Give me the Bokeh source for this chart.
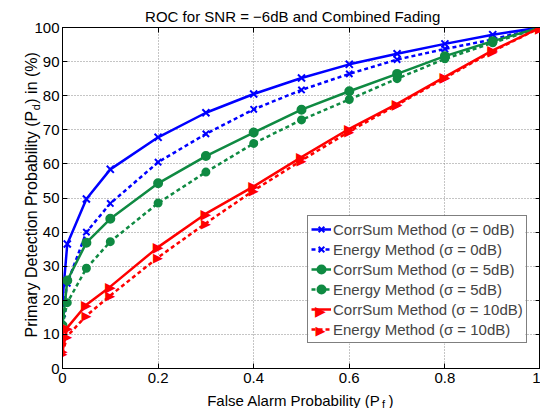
import math
from bokeh.plotting import figure
from bokeh.models import (LegendItem, Legend, LinearAxis, FixedTicker, Range1d)
from bokeh.embed import file_html
from bokeh.resources import INLINE
from bokeh.core.properties import value

# ---- data ----
pf = [0, 0.01, 0.05, 0.1, 0.2, 0.3, 0.4, 0.5, 0.6, 0.7, 0.8, 0.9, 1.0]
corrsum_0db = [20, 36.5, 49.7, 58.4, 67.8, 75.0, 80.5, 85.2, 89.2, 92.3, 95.2, 97.9, 100]
energy_0db = [16, 25, 40.0, 48.4, 60.5, 68.8, 76.0, 81.7, 86.4, 90.6, 93.7, 96.5, 100]
corrsum_5db = [12.6, 25.8, 36.9, 43.9, 54.3, 62.3, 69.2, 75.9, 81.3, 86.4, 91.6, 96.0, 100]
energy_5db = [12.6, 19.3, 29.4, 37.2, 48.5, 57.6, 66.0, 72.9, 78.9, 85.0, 90.8, 95.5, 100]
corrsum_10db = [5, 12.0, 18.7, 24.0, 35.6, 45.4, 53.4, 62.0, 70.3, 77.6, 85.5, 93.3, 100]
energy_10db = [4.5, 9.5, 15.5, 21.4, 32.6, 42.6, 52.2, 61.0, 69.5, 77.3, 85.2, 93.0, 100]

x_ticks = [0, 0.2, 0.4, 0.6, 0.8, 1.0]
x_tick_labels = ["0", "0.2", "0.4", "0.6", "0.8", "1"]
y_ticks = [0, 10, 20, 30, 40, 50, 60, 70, 80, 90, 100]
y_tick_labels = ["0", "10", "20", "30", "40", "50", "60", "70", "80", "90", "100"]

series_labels = [
    "CorrSum Method (\u03c3 = 0dB)",
    "Energy Method (\u03c3 = 0dB)",
    "CorrSum Method (\u03c3 = 5dB)",
    "Energy Method (\u03c3 = 5dB)",
    "CorrSum Method (\u03c3 = 10dB)",
    "Energy Method (\u03c3 = 10dB)",
]
title_text = "ROC for SNR = \u22126dB and Combined Fading"

FONT = "Liberation Sans"
BLUE = "#0000ff"
GREEN = "#0f8a42"
RED = "#ff0000"
TRI = "\u25b6"   # right-pointing triangle marker

FRAME_W, FRAME_H = 477, 341   # approximate frame size in pixels

p = figure(width=540, height=408, x_range=Range1d(0, 1), y_range=Range1d(0, 100),
           output_backend="svg", toolbar_location=None,
           min_border_left=62, min_border_right=0, min_border_top=27,
           min_border_bottom=40)
p.background_fill_color = "white"
p.border_fill_color = "white"
p.outline_line_color = "black"
p.outline_line_width = 1

# axes
for ax, ticks, labels in ((p.xaxis[0], x_ticks, x_tick_labels), (p.yaxis[0], y_ticks, y_tick_labels)):
    ax.ticker = FixedTicker(ticks=ticks)
    ax.major_label_overrides = {t: l for t, l in zip(ticks, labels)}
    ax.major_label_text_font = FONT
    ax.major_label_text_font_size = "15px"
    ax.major_label_text_color = "black"
    ax.major_tick_in = 5
    ax.major_tick_out = 0
    ax.minor_tick_line_color = None
    ax.axis_line_color = "black"
    ax.major_tick_line_color = "black"
p.xaxis.major_label_standoff = 4
p.yaxis.major_label_standoff = 3

top_ax = LinearAxis(ticker=FixedTicker(ticks=x_ticks),
                    major_label_overrides={t: "" for t in x_ticks},
                    major_tick_in=5, major_tick_out=0, minor_tick_line_color=None,
                    major_label_standoff=0, axis_line_color="black")
right_ax = LinearAxis(ticker=FixedTicker(ticks=y_ticks),
                      major_label_overrides={t: "" for t in y_ticks},
                      major_tick_in=5, major_tick_out=0, minor_tick_line_color=None,
                      major_label_standoff=0, axis_line_color="black")
p.add_layout(top_ax, "above")
p.add_layout(right_ax, "right")

p.xgrid.ticker = FixedTicker(ticks=x_ticks)
p.ygrid.ticker = FixedTicker(ticks=y_ticks)
for g in (p.xgrid, p.ygrid):
    g.grid_line_color = "#8a8a8a"
    g.grid_line_dash = "1 2"
    g.grid_line_width = 1

# series
specs = [
    (corrsum_0db, BLUE, "solid", "x", 10),
    (energy_0db, BLUE, "4 3", "x", 9),
    (corrsum_5db, GREEN, "solid", "circle", 8),
    (energy_5db, GREEN, "4 3", "circle", 7),
    (corrsum_10db, RED, "solid", "tri", 14),
    (energy_10db, RED, "4 3", "tri", 13),
]
items = []
for (ys, col, dash, mk, sz), lab in zip(specs, series_labels):
    lr = p.line(pf, ys, line_color=col, line_width=2.5, line_dash=dash)
    if mk == "tri":
        p.text(pf, ys, text=[TRI] * len(pf), text_color=col,
               text_font=value("DejaVu Sans"), text_font_size=f"{sz}px",
               text_align="center", text_baseline="middle")
        items.append(LegendItem(label=lab, renderers=[lr]))
    else:
        sr = p.scatter(pf, ys, marker=mk, size=sz, line_color=col, fill_color=col,
                       line_width=2)
        items.append(LegendItem(label=lab, renderers=[lr, sr]))

# legend (transparent background; a white box is drawn underneath it)
LEG_X, LEG_Y, LEG_PAD, ROW_H, GLYPH_W = 245, 25, 3, 20, 20
LEG_W, LEG_H = 217, 128
legend = Legend(items=items, location=(LEG_X, LEG_Y), label_text_font=FONT,
                label_text_font_size="15px", glyph_width=GLYPH_W, glyph_height=ROW_H,
                label_height=ROW_H, spacing=0, padding=LEG_PAD, margin=0,
                label_standoff=2, border_line_color="black", border_line_width=1,
                background_fill_alpha=0)
p.add_layout(legend)

p.rect(x=[(LEG_X + LEG_W / 2) / FRAME_W], y=[(LEG_Y + LEG_H / 2) / FRAME_H * 100],
       width=LEG_W, height=LEG_H, width_units="screen", height_units="screen",
       fill_color="white", line_color=None)

# title, axis labels and legend triangle glyphs: text anchored at a frame
# corner, shifted in pixels
def lab(corner, dx, dy, text, size, angle=0.0, align="left", baseline="alphabetic",
        color="black", font=FONT, level="overlay"):
    x0, y0 = corner
    p.text(x=[x0], y=[y0], text=[text], x_offset=dx, y_offset=dy, angle=angle,
           text_font=value(font), text_font_size=size, text_align=align,
           text_baseline=baseline, text_color=color, level=level)

TL = (0, 100)   # frame top-left
BL = (0, 0)     # frame bottom-left
lab(TL, 230.2, -11, title_text, "15px", align="center")
lab(BL, 144.7, 32, "False Alarm Probability (P", "15px")
lab(BL, 319.5, 35, "f", "11px")
lab(BL, 326.0, 32, ")", "15px")
lab(BL, -31, -31, "Primary Detection Probability (P", "16px", angle=math.pi / 2)
lab(BL, -27, -258.2, "d", "11px", angle=math.pi / 2)
lab(BL, -31, -264.8, ") in (%)", "16px", angle=math.pi / 2)

# legend markers for the two triangle series (rows 5 and 6 of the legend)
gx = LEG_X + LEG_PAD + GLYPH_W / 2
for row, sz in ((4, 14), (5, 13)):
    gy = LEG_Y + LEG_PAD + ROW_H * (5 - row) + ROW_H / 2
    lab(BL, gx, -gy, TRI, f"{sz}px", align="center", baseline="middle",
        color=RED, font="DejaVu Sans", level="glyph")

open("out.html", "w").write(file_html(p, INLINE))
